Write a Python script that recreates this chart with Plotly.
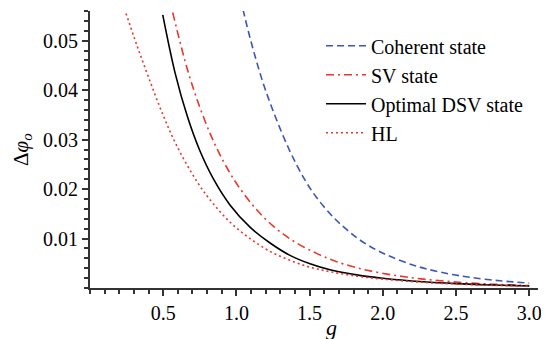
import plotly.graph_objects as go

# Data (hand-smoothed readings)
g_coh = [1.045, 1.1, 1.2, 1.354, 1.469, 1.55, 1.662, 1.75, 1.844, 1.95, 2.049, 2.2, 2.3, 2.45, 2.6, 2.8, 3.0]
d_coh = [0.0563, 0.0498, 0.0399, 0.0284, 0.0218, 0.0182, 0.0143, 0.0119, 0.0097, 0.0078, 0.0064, 0.0047, 0.00385, 0.00286, 0.00214, 0.00146, 0.00101]

g_sv = [0.565, 0.672, 0.781, 0.865, 0.945, 1.013, 1.127, 1.252, 1.389, 1.548, 1.685, 1.822, 1.913, 2.1, 2.277, 2.5, 2.75, 3.0]
d_sv = [0.0557, 0.0435, 0.0341, 0.0283, 0.0238, 0.0206, 0.0162, 0.0125, 0.0095, 0.0070, 0.0053, 0.0041, 0.00346, 0.00247, 0.0018, 0.0012, 0.00077, 0.00049]

g_dsv = [0.497, 0.581, 0.667, 0.747, 0.842, 0.956, 1.093, 1.23, 1.366, 1.503, 1.639, 1.822, 2.0, 2.277, 2.5, 2.75, 3.0]
d_dsv = [0.0552, 0.0435, 0.0345, 0.0280, 0.0221, 0.0168, 0.0123, 0.0091, 0.0066, 0.0049, 0.0037, 0.00265, 0.00196, 0.00125, 0.00088, 0.0006, 0.00041]

g_hl = [0.246, 0.32, 0.405, 0.5, 0.592, 0.733, 0.84, 0.957, 1.093, 1.23, 1.366, 1.503, 1.639, 1.822, 2.0, 2.277, 2.5, 2.75, 3.0]
d_hl = [0.0555, 0.0491, 0.0422, 0.0349, 0.0288, 0.0214, 0.0171, 0.0133, 0.0100, 0.0074, 0.0056, 0.0042, 0.0033, 0.0024, 0.0018, 0.00114, 0.0008, 0.00054, 0.00037]

x_ticks = [0.5, 1.0, 1.5, 2.0, 2.5, 3.0]
x_ticklabels = ["0.5", "1.0", "1.5", "2.0", "2.5", "3.0"]
y_ticks = [0.01, 0.02, 0.03, 0.04, 0.05]
y_ticklabels = ["0.01", "0.02", "0.03", "0.04", "0.05"]

BLUE = "#3a56b8"
RED = "#e8372b"
FONT = "Liberation Serif, Times New Roman, serif"

fig = go.Figure()
fig.add_trace(go.Scatter(x=g_coh, y=d_coh, mode="lines", name="Coherent state",
                         line=dict(color=BLUE, width=1.6, dash="7px,4px", shape="spline")))
fig.add_trace(go.Scatter(x=g_sv, y=d_sv, mode="lines", name="SV state",
                         line=dict(color=RED, width=1.6, dash="8px,4px,2px,4px", shape="spline")))
fig.add_trace(go.Scatter(x=g_dsv, y=d_dsv, mode="lines", name="Optimal DSV state",
                         line=dict(color="black", width=1.6, shape="spline")))
fig.add_trace(go.Scatter(x=g_hl, y=d_hl, mode="lines", name="HL",
                         line=dict(color=RED, width=1.6, dash="2px,3px", shape="spline")))

axis_common = dict(showgrid=False, zeroline=False, showline=True, linecolor="#333333", linewidth=2,
                   ticks="outside", tickcolor="#333333", tickwidth=1.5, ticklen=6,
                   tickfont=dict(family=FONT, size=20, color="black"))

fig.update_layout(
    width=549, height=339,
    margin=dict(l=82, r=19, t=3, b=59),
    plot_bgcolor="white", paper_bgcolor="white",
    font=dict(family=FONT, size=20, color="black"),
    showlegend=True,
    legend=dict(x=0.5156, y=0.945, xanchor="left", yanchor="top", bgcolor="rgba(0,0,0,0)",
                font=dict(family=FONT, size=20), tracegroupgap=0, itemwidth=40),
    xaxis=dict(range=[0, 3.06], tickmode="array", tickvals=x_ticks, ticktext=x_ticklabels,
               minor=dict(tickmode="linear", tick0=0, dtick=0.1, ticklen=4, tickcolor="#333333", ticks="outside"),
               **axis_common),
    yaxis=dict(range=[0, 0.056], tickmode="array", tickvals=y_ticks, ticktext=y_ticklabels,
               minor=dict(tickmode="linear", tick0=0, dtick=0.002, ticklen=4, tickcolor="#333333", ticks="outside"),
               **axis_common),
    annotations=[
        dict(text="<i>g</i>", xref="paper", yref="paper", x=0.54, y=-0.141, showarrow=False,
             font=dict(family=FONT, size=22), xanchor="center", yanchor="middle"),
        dict(text="Δ<i>φ</i><sub><i>o</i></sub>", xref="paper", yref="paper", x=-0.152, y=0.498,
             showarrow=False, textangle=-90, font=dict(family=FONT, size=21),
             xanchor="center", yanchor="middle"),
    ],
)

fig.write_html("out.html")
